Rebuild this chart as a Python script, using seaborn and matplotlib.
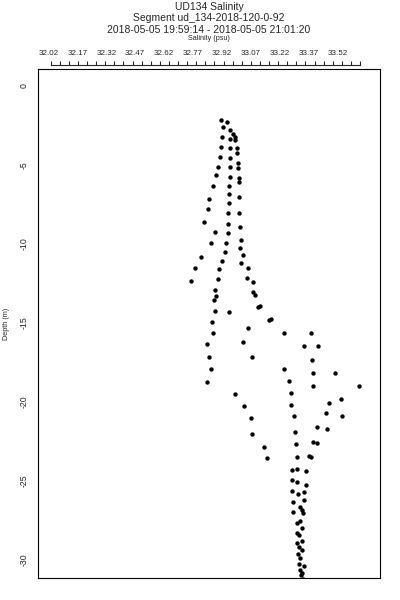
import numpy as np
import pandas as pd
import matplotlib
matplotlib.use("Agg")
import matplotlib.pyplot as plt
import seaborn as sns

# ---- data ----
salinity = [
    # left branch
    32.914, 32.924, 32.920, 32.917, 32.910, 32.898, 32.888, 32.875, 32.854, 32.849,
    32.827, 32.884, 32.862, 32.810, 32.782, 32.758,
    # middle branch
    32.948, 32.962, 32.962, 32.962, 32.962, 32.962, 32.962, 32.958, 32.957, 32.958,
    32.953, 32.950, 32.953, 32.941, 32.936, 32.922, 32.906, 32.898, 32.884, 32.889,
    32.880, 32.884, 32.867, 32.872, 32.841, 32.853, 32.863, 32.841,
    # right branch
    32.979, 32.990, 32.990, 32.997, 33.000, 33.003, 33.003, 33.007, 33.007, 33.010,
    33.010, 33.014, 33.017, 33.014, 33.031, 33.019, 33.057, 33.052, 33.083, 33.083,
    33.092, 33.109, 33.118, 33.166, 33.173,
    # other mid-depth
    32.957, 33.055, 33.031, 33.078, 32.988, 33.036, 33.069, 33.074, 33.140, 33.155,
    # right cluster
    33.242, 33.384, 33.347, 33.420, 33.386, 33.242, 33.394, 33.508, 33.270, 33.394,
    33.631, 33.277, 33.538, 33.278, 33.474, 33.294, 33.462, 33.542, 33.299, 33.412,
    33.464, 33.303, 33.391, 33.412, 33.308, 33.373, 33.384,
    # bottom
    33.282, 33.310, 33.358, 33.284, 33.310, 33.355, 33.285, 33.317, 33.346, 33.287,
    33.347, 33.325, 33.334, 33.290, 33.341, 33.308, 33.325, 33.336, 33.308, 33.322,
    33.334, 33.308, 33.322, 33.337, 33.313, 33.325, 33.322, 33.347, 33.325, 33.334,
    33.329, 33.342,
]
depth = [
    -2.17, -2.64, -3.23, -3.87, -4.50, -5.13, -5.66, -6.36, -7.20, -7.83,
    -8.62, -9.25, -9.99, -10.84, -11.57, -12.38,
    -2.28, -2.81, -3.40, -3.97, -4.60, -5.17, -5.77, -6.36, -6.88, -7.45,
    -8.05, -8.78, -9.35, -9.95, -10.52, -11.09, -11.64, -12.27, -12.95, -13.33,
    -13.58, -14.26, -14.96, -15.65, -16.39, -17.17, -17.97, -18.76,
    -3.06, -3.25, -3.44, -3.97, -4.28, -4.92, -5.23, -5.87, -6.08, -7.07,
    -8.05, -8.94, -9.78, -10.30, -10.73, -11.22, -11.57, -12.17, -12.42, -13.05,
    -13.26, -14.04, -13.96, -14.85, -14.80,
    -14.36, -15.37, -16.26, -17.17, -19.56, -20.30, -21.04, -22.07, -22.88, -23.61,
    -15.69, -15.65, -16.48, -16.50, -17.36, -17.97, -18.19, -18.19, -18.69, -19.03,
    -19.03, -19.46, -19.85, -20.23, -20.13, -20.93, -20.72, -20.91, -21.97, -21.65,
    -21.76, -22.73, -22.60, -22.66, -23.51, -23.47, -23.51,
    -24.37, -24.31, -24.42, -24.99, -25.10, -25.30, -25.68, -25.88, -25.72, -26.36,
    -26.26, -26.68, -26.89, -27.03, -27.06, -27.69, -27.59, -28.01, -28.33, -28.47,
    -28.83, -29.00, -29.21, -29.42, -29.68, -29.95, -30.31, -30.44, -30.69, -30.90,
    -31.01, -31.28,
]
x_tick_labels = ["32.02", "32.17", "32.32", "32.47", "32.62", "32.77",
                 "32.92", "33.07", "33.22", "33.37", "33.52"]
y_tick_values = [0, -5, -10, -15, -20, -25, -30]

title_lines = ["UD134 Salinity",
               "Segment ud_134-2018-120-0-92",
               "2018-05-05 19:59:14 - 2018-05-05 21:01:20"]
x_label = "Salinity (psu)"
y_label = "Depth (m)"

df = pd.DataFrame({"salinity": salinity, "depth": depth})

# ---- styling ----
sns.set_theme(style="white")
plt.rcParams["font.family"] = ["Liberation Sans", "DejaVu Sans"]

W, H = 400, 600
fig = plt.figure(figsize=(W / 100, H / 100), dpi=100)
left, right, top, bottom = 38, 380, 69, 578
ax = fig.add_axes([left / W, 1 - bottom / H, (right - left) / W, (bottom - top) / H])

sns.scatterplot(data=df, x="salinity", y="depth", ax=ax, color="black",
                s=10, linewidth=0, marker="o", legend=False)

ax.set_xlim(31.9655, 33.7403)
ax.set_ylim(-31.19, 1.06)

for sp in ax.spines.values():
    sp.set_visible(True)
    sp.set_color("black")
    sp.set_linewidth(0.8)

ax.set_xlabel("")
ax.set_ylabel("")
ax.set_xticks([])
ax.set_yticks(y_tick_values)
ax.set_yticklabels([str(v) for v in y_tick_values], rotation=90, va="center",
                   fontsize=6.3)
ax.tick_params(axis="y", length=0, pad=7)

# detached top axis with ticks
sec = ax.secondary_xaxis(1 + 4 / (bottom - top))
label_vals = [float(t) for t in x_tick_labels]
sec.set_xticks(label_vals)
sec.set_xticklabels(x_tick_labels, fontsize=5.8)
minor_pos = 32.0314 + 0.04722 * np.arange(35)
sec.set_xticks(minor_pos, minor=True)
sec.tick_params(axis="x", which="major", length=0, pad=6)
sec.tick_params(axis="x", which="minor", length=3.2, width=0.8, direction="out")
sec.spines["top"].set_visible(True)
sec.spines["top"].set_linewidth(0.8)
sec.spines["top"].set_bounds(minor_pos[0], minor_pos[-1])
for name in ("bottom", "left", "right"):
    if name in sec.spines:
        sec.spines[name].set_visible(False)

# titles and labels
cx = (left + right) / 2 / W
fig.text(cx, 1 - 7 / H, title_lines[0], ha="center", va="center", fontsize=7.5)
fig.text(cx, 1 - 18 / H, title_lines[1], ha="center", va="center", fontsize=7.5)
fig.text(cx, 1 - 30 / H, title_lines[2], ha="center", va="center", fontsize=7.5)
fig.text(cx, 1 - 38.5 / H, x_label, ha="center", va="center", fontsize=5.2)
fig.text(6 / W, 1 - 324 / H, y_label, ha="center", va="center", rotation=90,
         fontsize=5.2)

fig.savefig("out.png", dpi=100, facecolor="white")
